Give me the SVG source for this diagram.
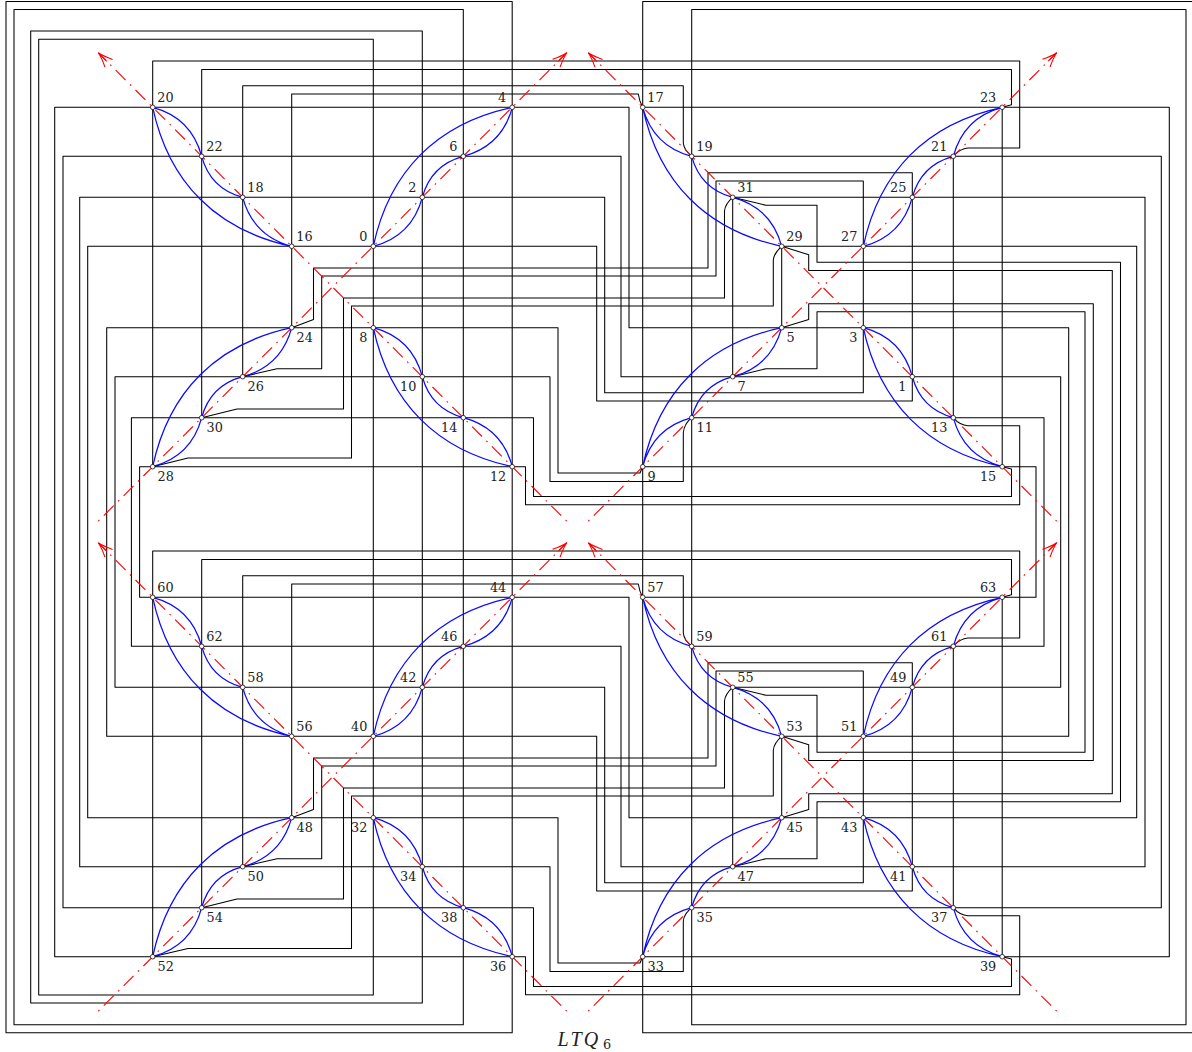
<svg xmlns="http://www.w3.org/2000/svg" width="1192" height="1052" viewBox="0 0 1192 1052">
<style>
.w{fill:none;stroke:#000;stroke-width:1.05;stroke-linejoin:round}
.b{fill:none;stroke:#0a0aff;stroke-width:1.25}
.r{fill:none;stroke:#f00;stroke-width:1.1;stroke-dasharray:1.6 6.2 14 6.2;marker-end:url(#arr)}
.n circle{fill:#fff;stroke:#111;stroke-width:.8}
.n text{font-family:"DejaVu Serif",serif;font-size:12.8px;fill:#222}
.n .e{text-anchor:end}
</style>
<defs>
<marker id="arr" markerUnits="userSpaceOnUse" markerWidth="30" markerHeight="30" refX="20" refY="10" orient="auto" overflow="visible">
<path d="M5.2,4.6 Q14,8.8 20,10 Q14,11.2 5.2,15.4 M8,10 H20" fill="none" stroke="#f00" stroke-width="1.1"/>
</marker>
</defs>
<rect width="1192" height="1052" fill="#fff"/>
<g id="connectors">
<g id="frames" class="w">
<path d="M373.3,39.3 H38.7 V995 H373.3 Z"/>
<path d="M422.3,31 H30.7 V1003 H422.3 Z"/>
<path d="M463.3,9.5 H14 V1024.7 H463.3 Z"/>
<path d="M512.2,1.5 H6 V1032.7 H512.2 Z"/>
<path d="M1192,1.5 H642.7 V1032.7 H1192"/>
<path d="M691.7,9.5 H1186 V1024.7 H691.7 Z"/>
</g>
<g id="wires" class="w">
<path d="M291.7,327.7 V94 H638.3 Q639.5,102 642.7,107.3"/>
<path d="M291.7,817.7 V584 H638.3 Q639.5,592 642.7,597.3"/>
<path d="M242.7,376.7 V85.7 H683.3 V143 Q684,150 691.7,156.3"/>
<path d="M242.7,866.7 V575.7 H683.3 V633 Q684,640 691.7,646.3"/>
<path d="M201.7,417.7 V69.5 H1011.5 V104.8 L1002.2,107.3"/>
<path d="M201.7,907.7 V559.5 H1011.5 V594.8 L1002.2,597.3"/>
<path d="M152.7,466.7 V61 H1019.7 V148 H968 Q960,148.5 953.3,156.3"/>
<path d="M152.7,956.7 V551 H1019.7 V638 H968 Q960,638.5 953.3,646.3"/>
<path d="M291.7,327.7 L313.5,319.5 V268 H708 V172.7 H912.3 V401 H596.7 V246.3 H87.7 V817.7 H558 V963 H640 L642.7,956.7"/>
<path d="M242.7,376.7 L277,368.7 H321.7 V276 H716 V181 H863.3 V392.7 H604.7 V197.3 H79.7 V866.7 H550 V971.5 H683.3 V921 Q684,914 691.7,907.7"/>
<path d="M201.7,417.7 L237,409 H343.5 V298 H724.5 V211 Q725,204 732.7,197.3"/>
<path d="M152.7,466.7 L188,458 H351.5 V306 H773.3 V260 Q774,253 781.7,246.3"/>
<path d="M732.7,197.3 L766,205.3 H817 V262.3 H1120.5 V801.7 H817 V858.7 H766 L732.7,866.7"/>
<path d="M781.7,246.3 L808.7,254.7 V270.5 H1112.3 V793.7 H808.7 V809.5 L781.7,817.7"/>
<path d="M781.7,327.7 L808.7,319.5 V303.7 H1093.3 V760.5 H808.7 V744.7 L781.7,736.3"/>
<path d="M732.7,376.7 L766,368.7 H817 V311.7 H1085 V752.3 H817 V695.3 H766 L732.7,687.3"/>
<path d="M642.7,107.3 H1169.3 V956.7 H642.7"/>
<path d="M691.7,156.3 H1161.3 V907.7 H691.7"/>
<path d="M732.7,197.3 H1145 V866.7 H621 V646.3 H131.4 V417.7 H533.5 V496.5 H1011.5 V469 L1002.2,466.7"/>
<path d="M781.7,246.3 H1136.7 V817.7 H629 V597.3 H139.6 V466.7 H525.5 V504.7 H1019.7 V425.7 H968 Q960,425.5 953.3,417.7"/>
<path d="M781.7,736.3 H1068.7 V327.7 H629 V107.3 H54.7 V956.7 H525.5 V994.7 H1019.7 V915.7 H968 Q960,915.5 953.3,907.7"/>
<path d="M732.7,687.3 H1060.7 V376.7 H621 V156.3 H63 V907.7 H533.5 V986.5 H1011.5 V959 L1002.2,956.7"/>
<path d="M691.7,417.7 H1044 V646.3 H691.7"/>
<path d="M642.7,466.7 H1036 V597.3 H642.7"/>
<path d="M642.7,466.7 L640,473 H558 V327.7 H106.7 V736.3 H596.7 V891 H912.3 V662.7 H708 V758 H313.5 V809.5 L291.7,817.7"/>
<path d="M691.7,417.7 Q684,424 683.3,433 V481.5 H550 V376.7 H115 V687.3 H604.7 V882.7 H863.3 V671 H716 V766 H321.7 V858.7 H277 L242.7,866.7"/>
<path d="M732.7,687.3 Q725,694 724.5,701 V788 H343.5 V899 H237 L201.7,907.7"/>
<path d="M781.7,736.3 Q774,743 773.3,750 V796 H351.5 V948.5 H188 L152.7,956.7"/>
<path d="M732.7,197.3 V376.7 M732.7,687.3 V866.7 M781.7,246.3 V327.7 M781.7,736.3 V817.7"/>
<path d="M953.3,156.3 V417.7 M953.3,646.3 V907.7 M1002.2,107.3 V466.7 M1002.2,597.3 V956.7"/>
</g>
<g id="axes" class="r">
<path d="M98.3,521.1 L566.8,52.7"/>
<path d="M566.7,521.2 L98.3,52.8"/>
<path d="M588.3,521.1 L1056.7,52.7"/>
<path d="M1056.7,521.2 L588.3,52.8"/>
<path d="M98.3,1011.1 L566.8,542.7"/>
<path d="M566.7,1011.2 L98.3,542.8"/>
<path d="M588.3,1011.1 L1056.7,542.7"/>
<path d="M1056.7,1011.2 L588.3,542.8"/>
</g>
<g id="curves" class="b">
<path d="M152.7,107.3 c26.2,7 42,22.8 49,49 M201.7,156.3 c5.9,21.9 19.1,35.1 41,41 M242.7,197.3 c7,26.2 22.8,42 49,49 M152.7,107.3 c16,75.2 63.8,123 139,139"/>
<path d="M373.3,246.3 c26.2,-7 42,-22.8 49,-49 M422.3,197.3 c5.9,-21.9 19.1,-35.1 41,-41 M463.3,156.3 c26.2,-7 42,-22.8 49,-49 M373.3,246.3 c16,-75.2 63.8,-123 139,-139"/>
<path d="M152.7,466.7 c26.2,-7 42,-22.8 49,-49 M201.7,417.7 c5.9,-21.9 19.1,-35.1 41,-41 M242.7,376.7 c26.2,-7 42,-22.8 49,-49 M152.7,466.7 c16,-75.2 63.8,-123 139,-139"/>
<path d="M373.3,327.7 c26.2,7 42,22.8 49,49 M422.3,376.7 c5.9,21.9 19.1,35.1 41,41 M463.3,417.7 c26.2,7 42,22.8 49,49 M373.3,327.7 c16,75.2 63.8,123 139,139"/>
<path d="M642.7,107.3 c7,26.2 22.8,42 49,49 M691.7,156.3 c5.9,21.9 19.1,35.1 41,41 M732.7,197.3 c26.2,7 42,22.8 49,49 M642.7,107.3 c16,75.2 63.8,123 139,139"/>
<path d="M863.3,246.3 c26.2,-7 42,-22.8 49,-49 M912.3,197.3 c5.9,-21.9 19.1,-35.1 41,-41 M953.3,156.3 c7,-26.2 22.8,-42 49,-49 M863.3,246.3 c16,-75.2 63.8,-123 139,-139"/>
<path d="M642.7,466.7 c7,-26.2 22.8,-42 49,-49 M691.7,417.7 c5.9,-21.9 19.1,-35.1 41,-41 M732.7,376.7 c26.2,-7 42,-22.8 49,-49 M642.7,466.7 c16,-75.2 63.8,-123 139,-139"/>
<path d="M863.3,327.7 c26.2,7 42,22.8 49,49 M912.3,376.7 c5.9,21.9 19.1,35.1 41,41 M953.3,417.7 c7,26.2 22.8,42 49,49 M863.3,327.7 c16,75.2 63.8,123 139,139"/>
<path d="M152.7,597.3 c26.2,7 42,22.8 49,49 M201.7,646.3 c5.9,21.9 19.1,35.1 41,41 M242.7,687.3 c7,26.2 22.8,42 49,49 M152.7,597.3 c16,75.2 63.8,123 139,139"/>
<path d="M373.3,736.3 c26.2,-7 42,-22.8 49,-49 M422.3,687.3 c5.9,-21.9 19.1,-35.1 41,-41 M463.3,646.3 c26.2,-7 42,-22.8 49,-49 M373.3,736.3 c16,-75.2 63.8,-123 139,-139"/>
<path d="M152.7,956.7 c26.2,-7 42,-22.8 49,-49 M201.7,907.7 c5.9,-21.9 19.1,-35.1 41,-41 M242.7,866.7 c26.2,-7 42,-22.8 49,-49 M152.7,956.7 c16,-75.2 63.8,-123 139,-139"/>
<path d="M373.3,817.7 c26.2,7 42,22.8 49,49 M422.3,866.7 c5.9,21.9 19.1,35.1 41,41 M463.3,907.7 c26.2,7 42,22.8 49,49 M373.3,817.7 c16,75.2 63.8,123 139,139"/>
<path d="M642.7,597.3 c7,26.2 22.8,42 49,49 M691.7,646.3 c5.9,21.9 19.1,35.1 41,41 M732.7,687.3 c26.2,7 42,22.8 49,49 M642.7,597.3 c16,75.2 63.8,123 139,139"/>
<path d="M863.3,736.3 c26.2,-7 42,-22.8 49,-49 M912.3,687.3 c5.9,-21.9 19.1,-35.1 41,-41 M953.3,646.3 c7,-26.2 22.8,-42 49,-49 M863.3,736.3 c16,-75.2 63.8,-123 139,-139"/>
<path d="M642.7,956.7 c7,-26.2 22.8,-42 49,-49 M691.7,907.7 c5.9,-21.9 19.1,-35.1 41,-41 M732.7,866.7 c26.2,-7 42,-22.8 49,-49 M642.7,956.7 c16,-75.2 63.8,-123 139,-139"/>
<path d="M863.3,817.7 c26.2,7 42,22.8 49,49 M912.3,866.7 c5.9,21.9 19.1,35.1 41,41 M953.3,907.7 c7,26.2 22.8,42 49,49 M863.3,817.7 c16,75.2 63.8,123 139,139"/>
</g>
</g>
<g id="nodes">
<g id="n20" class="n"><circle cx="152.7" cy="107.3" r="2.3"/><text x="157.3" y="102">20</text></g>
<g id="n22" class="n"><circle cx="201.7" cy="156.3" r="2.3"/><text x="206.3" y="151">22</text></g>
<g id="n18" class="n"><circle cx="242.7" cy="197.3" r="2.3"/><text x="247.3" y="192">18</text></g>
<g id="n16" class="n"><circle cx="291.7" cy="246.3" r="2.3"/><text x="296.3" y="241">16</text></g>
<g id="n0" class="n"><circle cx="373.3" cy="246.3" r="2.3"/><text class="e" x="367.3" y="241">0</text></g>
<g id="n2" class="n"><circle cx="422.3" cy="197.3" r="2.3"/><text class="e" x="416.3" y="192">2</text></g>
<g id="n6" class="n"><circle cx="463.3" cy="156.3" r="2.3"/><text class="e" x="457.3" y="151">6</text></g>
<g id="n4" class="n"><circle cx="512.2" cy="107.3" r="2.3"/><text class="e" x="506.2" y="102">4</text></g>
<g id="n24" class="n"><circle cx="291.7" cy="327.7" r="2.3"/><text x="296.5" y="342.1">24</text></g>
<g id="n26" class="n"><circle cx="242.7" cy="376.7" r="2.3"/><text x="247.5" y="391.1">26</text></g>
<g id="n30" class="n"><circle cx="201.7" cy="417.7" r="2.3"/><text x="206.5" y="432.1">30</text></g>
<g id="n28" class="n"><circle cx="152.7" cy="466.7" r="2.3"/><text x="157.5" y="481.1">28</text></g>
<g id="n8" class="n"><circle cx="373.3" cy="327.7" r="2.3"/><text class="e" x="367.3" y="342.1">8</text></g>
<g id="n10" class="n"><circle cx="422.3" cy="376.7" r="2.3"/><text class="e" x="416.3" y="391.1">10</text></g>
<g id="n14" class="n"><circle cx="463.3" cy="417.7" r="2.3"/><text class="e" x="457.3" y="432.1">14</text></g>
<g id="n12" class="n"><circle cx="512.2" cy="466.7" r="2.3"/><text class="e" x="506.2" y="481.1">12</text></g>
<g id="n17" class="n"><circle cx="642.7" cy="107.3" r="2.3"/><text x="647.3" y="102">17</text></g>
<g id="n19" class="n"><circle cx="691.7" cy="156.3" r="2.3"/><text x="696.3" y="151">19</text></g>
<g id="n31" class="n"><circle cx="732.7" cy="197.3" r="2.3"/><text x="737.3" y="192">31</text></g>
<g id="n29" class="n"><circle cx="781.7" cy="246.3" r="2.3"/><text x="786.3" y="241">29</text></g>
<g id="n27" class="n"><circle cx="863.3" cy="246.3" r="2.3"/><text class="e" x="857.3" y="241">27</text></g>
<g id="n25" class="n"><circle cx="912.3" cy="197.3" r="2.3"/><text class="e" x="906.3" y="192">25</text></g>
<g id="n21" class="n"><circle cx="953.3" cy="156.3" r="2.3"/><text class="e" x="947.3" y="151">21</text></g>
<g id="n23" class="n"><circle cx="1002.2" cy="107.3" r="2.3"/><text class="e" x="996.2" y="102">23</text></g>
<g id="n5" class="n"><circle cx="781.7" cy="327.7" r="2.3"/><text x="786.5" y="342.1">5</text></g>
<g id="n7" class="n"><circle cx="732.7" cy="376.7" r="2.3"/><text x="737.5" y="391.1">7</text></g>
<g id="n11" class="n"><circle cx="691.7" cy="417.7" r="2.3"/><text x="696.5" y="432.1">11</text></g>
<g id="n9" class="n"><circle cx="642.7" cy="466.7" r="2.3"/><text x="647.5" y="481.1">9</text></g>
<g id="n3" class="n"><circle cx="863.3" cy="327.7" r="2.3"/><text class="e" x="857.3" y="342.1">3</text></g>
<g id="n1" class="n"><circle cx="912.3" cy="376.7" r="2.3"/><text class="e" x="906.3" y="391.1">1</text></g>
<g id="n13" class="n"><circle cx="953.3" cy="417.7" r="2.3"/><text class="e" x="947.3" y="432.1">13</text></g>
<g id="n15" class="n"><circle cx="1002.2" cy="466.7" r="2.3"/><text class="e" x="996.2" y="481.1">15</text></g>
<g id="n60" class="n"><circle cx="152.7" cy="597.3" r="2.3"/><text x="157.3" y="592">60</text></g>
<g id="n62" class="n"><circle cx="201.7" cy="646.3" r="2.3"/><text x="206.3" y="641">62</text></g>
<g id="n58" class="n"><circle cx="242.7" cy="687.3" r="2.3"/><text x="247.3" y="682">58</text></g>
<g id="n56" class="n"><circle cx="291.7" cy="736.3" r="2.3"/><text x="296.3" y="731">56</text></g>
<g id="n40" class="n"><circle cx="373.3" cy="736.3" r="2.3"/><text class="e" x="367.3" y="731">40</text></g>
<g id="n42" class="n"><circle cx="422.3" cy="687.3" r="2.3"/><text class="e" x="416.3" y="682">42</text></g>
<g id="n46" class="n"><circle cx="463.3" cy="646.3" r="2.3"/><text class="e" x="457.3" y="641">46</text></g>
<g id="n44" class="n"><circle cx="512.2" cy="597.3" r="2.3"/><text class="e" x="506.2" y="592">44</text></g>
<g id="n48" class="n"><circle cx="291.7" cy="817.7" r="2.3"/><text x="296.5" y="832.1">48</text></g>
<g id="n50" class="n"><circle cx="242.7" cy="866.7" r="2.3"/><text x="247.5" y="881.1">50</text></g>
<g id="n54" class="n"><circle cx="201.7" cy="907.7" r="2.3"/><text x="206.5" y="922.1">54</text></g>
<g id="n52" class="n"><circle cx="152.7" cy="956.7" r="2.3"/><text x="157.5" y="971.1">52</text></g>
<g id="n32" class="n"><circle cx="373.3" cy="817.7" r="2.3"/><text class="e" x="367.3" y="832.1">32</text></g>
<g id="n34" class="n"><circle cx="422.3" cy="866.7" r="2.3"/><text class="e" x="416.3" y="881.1">34</text></g>
<g id="n38" class="n"><circle cx="463.3" cy="907.7" r="2.3"/><text class="e" x="457.3" y="922.1">38</text></g>
<g id="n36" class="n"><circle cx="512.2" cy="956.7" r="2.3"/><text class="e" x="506.2" y="971.1">36</text></g>
<g id="n57" class="n"><circle cx="642.7" cy="597.3" r="2.3"/><text x="647.3" y="592">57</text></g>
<g id="n59" class="n"><circle cx="691.7" cy="646.3" r="2.3"/><text x="696.3" y="641">59</text></g>
<g id="n55" class="n"><circle cx="732.7" cy="687.3" r="2.3"/><text x="737.3" y="682">55</text></g>
<g id="n53" class="n"><circle cx="781.7" cy="736.3" r="2.3"/><text x="786.3" y="731">53</text></g>
<g id="n51" class="n"><circle cx="863.3" cy="736.3" r="2.3"/><text class="e" x="857.3" y="731">51</text></g>
<g id="n49" class="n"><circle cx="912.3" cy="687.3" r="2.3"/><text class="e" x="906.3" y="682">49</text></g>
<g id="n61" class="n"><circle cx="953.3" cy="646.3" r="2.3"/><text class="e" x="947.3" y="641">61</text></g>
<g id="n63" class="n"><circle cx="1002.2" cy="597.3" r="2.3"/><text class="e" x="996.2" y="592">63</text></g>
<g id="n45" class="n"><circle cx="781.7" cy="817.7" r="2.3"/><text x="786.5" y="832.1">45</text></g>
<g id="n47" class="n"><circle cx="732.7" cy="866.7" r="2.3"/><text x="737.5" y="881.1">47</text></g>
<g id="n35" class="n"><circle cx="691.7" cy="907.7" r="2.3"/><text x="696.5" y="922.1">35</text></g>
<g id="n33" class="n"><circle cx="642.7" cy="956.7" r="2.3"/><text x="647.5" y="971.1">33</text></g>
<g id="n43" class="n"><circle cx="863.3" cy="817.7" r="2.3"/><text class="e" x="857.3" y="832.1">43</text></g>
<g id="n41" class="n"><circle cx="912.3" cy="866.7" r="2.3"/><text class="e" x="906.3" y="881.1">41</text></g>
<g id="n37" class="n"><circle cx="953.3" cy="907.7" r="2.3"/><text class="e" x="947.3" y="922.1">37</text></g>
<g id="n39" class="n"><circle cx="1002.2" cy="956.7" r="2.3"/><text class="e" x="996.2" y="971.1">39</text></g>
</g>
<text id="caption" x="557.5" y="1046" fill="#222" font-family="'Liberation Serif',serif" font-size="20" font-style="italic" letter-spacing="2.2">LTQ<tspan x="603" y="1049" font-family="'DejaVu Serif',serif" font-style="normal" font-size="12.8" letter-spacing="0">6</tspan></text>
</svg>
